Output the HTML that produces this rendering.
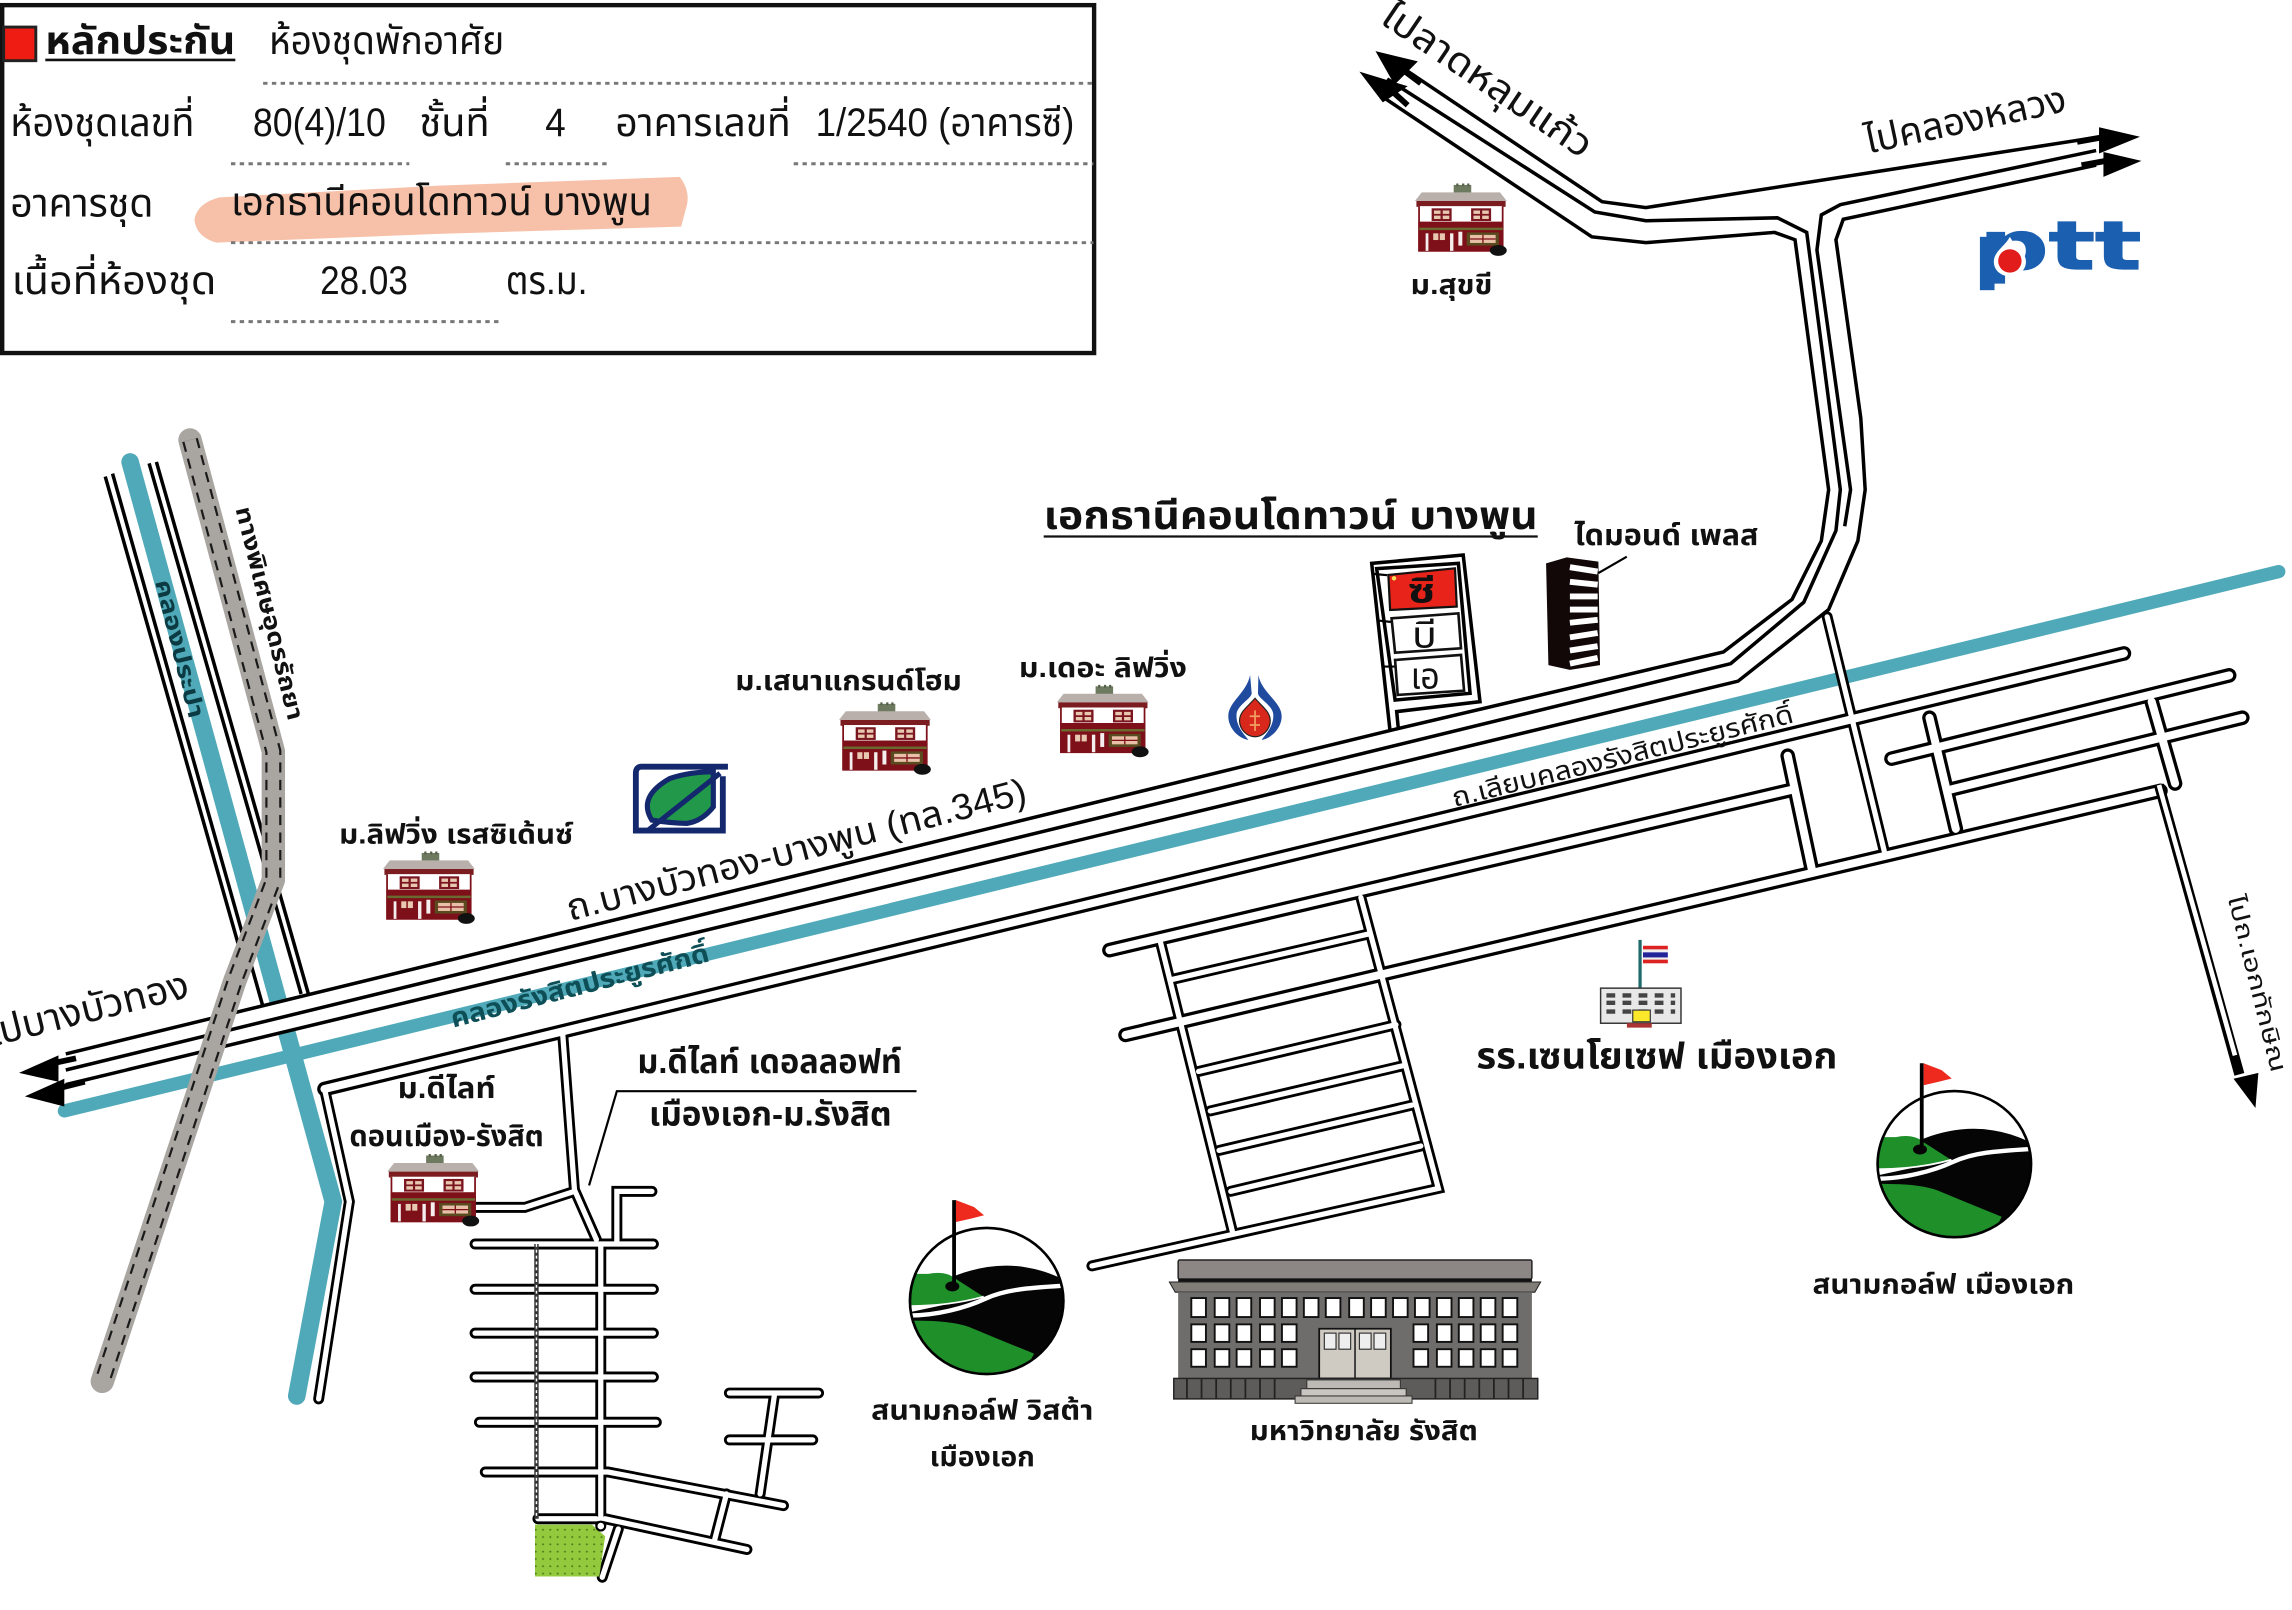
<!DOCTYPE html>
<html lang="th"><head><meta charset="utf-8"><title>แผนที่ เอกธานีคอนโดทาวน์ บางพูน</title>
<style>
html,body{margin:0;padding:0;background:#fff;width:2292px;height:1610px;overflow:hidden}
svg{display:block}
text{font-family:"Liberation Sans","Noto Sans Thai","Loma","Garuda","Norasi","Waree","TH Sarabun New","WenQuanYi Zen Hei","DejaVu Sans",sans-serif;fill:#111}
.b{font-weight:bold}
.l{fill:none;stroke:#000;stroke-width:2.400;stroke-linejoin:miter}
.t{fill:none;stroke:#000;stroke-width:1.500}
.d{fill:none;stroke:#777;stroke-width:2;stroke-dasharray:3 3}
</style></head><body>
<svg xmlns="http://www.w3.org/2000/svg" width="2292" height="1610" viewBox="0 0 1568 1101.4">
<defs>
<g id="house">
<rect x="26.500" y="-.5" width="12" height="6" fill="#6e7a5f"/>
<path d="M29 -1.500v2M33 -1.500v2M36.500 -1.500v2" stroke="#556048" stroke-width="1.500"/>
<polygon points="4.600,4.600 58.200,4.600 62.800,10.500 0,10.500" fill="#b9b0ac"/>
<rect x="1" y="10.500" width="61" height="4" fill="#7a1c20"/>
<rect x="2.300" y="14" width="58.200" height="11" fill="#fff"/>
<path d="M2.800 14V45M60 14V45" stroke="#7d1018" stroke-width="1.200"/>
<rect x="11.400" y="15.500" width="13.700" height="8.700" fill="#7b1520"/><rect x="38.400" y="15.500" width="13.700" height="8.700" fill="#7b1520"/>
<g fill="#e8c8b0"><rect x="13" y="17" width="4.500" height="2.300"/><rect x="19" y="17" width="4.500" height="2.300"/><rect x="13" y="20.500" width="4.500" height="2.300"/><rect x="19" y="20.500" width="4.500" height="2.300"/><rect x="40" y="17" width="4.500" height="2.300"/><rect x="46" y="17" width="4.500" height="2.300"/><rect x="40" y="20.500" width="4.500" height="2.300"/><rect x="46" y="20.500" width="4.500" height="2.300"/></g>
<rect x="2.300" y="24.600" width="58.200" height="20.600" fill="#7d1018"/>
<rect x="3" y="28.700" width="57" height="1.700" fill="#6a6a30"/>
<rect x="7.300" y="32.600" width="1.900" height="12" fill="#f4eeee"/><rect x="24" y="32.600" width="2.300" height="12" fill="#f4eeee"/><rect x="29.700" y="31.500" width="2.700" height="9.500" fill="#f4eeee"/>
<rect x="12.500" y="32.600" width="3.500" height="4.600" fill="#e8c8b0"/><rect x="17" y="32.600" width="3.500" height="4.600" fill="#e8c8b0"/>
<rect x="35.400" y="32" width="22" height="9" fill="#5a4a20"/><rect x="37.700" y="33.700" width="17.500" height="5.500" fill="#e8c0a8"/>
<path d="M37.700 36.500h17.500M46.500 33.700v5.500" stroke="#7d1018" stroke-width=".9"/>
<ellipse cx="57" cy="44.300" rx="5.800" ry="3.700" fill="#111"/>
</g>
<g id="golf">
<clipPath id="gc"><ellipse cx="0" cy="0" rx="52.500" ry="50"/></clipPath>
<ellipse cx="0" cy="0" rx="52.500" ry="50" fill="#fff"/>
<g clip-path="url(#gc)">
<path d="M-21 -17.500Q4 -27 27 -23Q40 -21 54 -14V52H-54V8L-26 2Z" fill="#050505"/>
<path d="M-54 -18.500H-40Q-28 -21 -21 -15L-1.800 -2.700Q-20 3 -54 4Z" fill="#1f8f2a"/>
<path d="M-54 13.500Q-25 13 -12 17.800Q10 27 32.400 36L20 60H-54Z" fill="#1f8f2a"/>
<path d="M-54 10C-35 10 -15 5 -.7 -1.600S30 -9 54 -10.500" fill="none" stroke="#fff" stroke-width="3"/>
<path d="M-54 3.500Q-25 3.500 -2 -3" fill="none" stroke="#fff" stroke-width="1.200"/>
</g>
<ellipse cx="0" cy="0" rx="52.500" ry="50" fill="none" stroke="#000" stroke-width="1.800"/>
<path d="M-22.300 -11V-69" stroke="#000" stroke-width="2.600"/>
<polygon points="-21,-69 -8.700,-64.300 -1.800,-58.600 -10,-56.500 -21,-54" fill="#ee2a1e"/>
<ellipse cx="-23.500" cy="-10" rx="4.800" ry="3.400" fill="#050505"/>
</g>
<g id="rA" fill="none" stroke-linecap="round" stroke-linejoin="miter">
<path d="M222 745L1453 447"/><path d="M759 650L1227 540"/><path d="M770 708L1478 541"/><path d="M1294 519L1525 462"/><path d="M1335 540L1534 491"/>
<path d="M1223 517L1240 597"/><path d="M1320 491L1338 567"/><path d="M1472 480L1488 536"/>
</g>
<g id="rB" fill="none" stroke-linecap="round" stroke-linejoin="miter">
<path d="M1250 422L1289 582"/>
<path d="M747 866L984 813L931 614"/><path d="M794 645L843 842"/>
<path d="M802 670L936 639M820 733L955 701M828 760L960 729M834 787L966 756M842 815L972 784"/>
<path d="M325 851H447M325 882H447M325 912H447M325 942H447M328 973H449M332 1007H416L536 1030M422 850V815H446"/>
<path d="M411 851V1043M408 848L393 814L385 708"/><path d="M326 826H359L393 815"/>
<path d="M499 953H560M499 985H556M530 953L520 1022M497 1022L489 1053M414 1039L511 1060M423 1046L412 1079M368 1039H408"/>
<path d="M218 957L239 822L222 745"/>
</g>
<pattern id="dots" width="5" height="5" patternUnits="userSpaceOnUse"><rect width="5" height="5" fill="#93c93d"/><circle cx="1.500" cy="1.500" r=".7" fill="#4f7a1c"/></pattern>
</defs>
<rect width="1568" height="1102" fill="#fff"/>

<!-- canals -->
<path d="M44 760L1559 391" fill="none" stroke="#4fa9b8" stroke-width="9" stroke-linecap="round"/>
<path d="M89 316L228 822L203 955" fill="none" stroke="#4fa9b8" stroke-width="12" stroke-linecap="round" stroke-linejoin="miter"/>

<path class="l" d="M72 326L167 660M77 324L180 689M102 317L206 680M107 316L211 680"/>

<!-- highway -->
<polygon points="45,721 954,499 1189,446 1189,466 45,742" fill="#fff"/>
<path class="l" d="M1434 94L1126 142L1096 138L956 44"/>
<path class="l" d="M45 721L954 499L1179 446L1226 410L1246 370L1251 335L1228 164L1214 159L1126 166L1089 162L944 65"/>
<path class="l" d="M45 732L1184 454L1234 412L1256 363L1259 335L1236 159L1216 149L1126 151L1091 145L949 54"/>
<path class="l" d="M1434 103L1259 140L1246 147L1243 171L1266 335L1262 360"/>
<path class="l" d="M45 742L1189 466L1251 417L1271 370L1276 335L1273 286L1256 164L1261 150L1434 113"/>

<!-- arrows -->
<path d="M13 734L40 722L40 740ZM17 750L44 738L44 757Z" fill="#000"/>
<path d="M38 727L52 724M42 744L58 740" stroke="#000" stroke-width="4"/>
<path d="M1464 93.500L1436 87L1436 105ZM1465 110L1439 104L1439 121Z" fill="#000"/>
<path d="M1421 97L1438 94M1424 113L1441 110" stroke="#000" stroke-width="4"/>
<path d="M941 35L970 42L954 58ZM930 49L963 59L946 70Z" fill="#000"/>
<path d="M960 48L972 57M952 62L963 72" stroke="#000" stroke-width="4"/>

<!-- secondary roads -->
<use href="#rA" stroke="#000" stroke-width="10"/>
<use href="#rB" stroke="#000" stroke-width="7.500"/>
<use href="#rA" stroke="#fff" stroke-width="5.500"/>
<use href="#rB" stroke="#fff" stroke-width="3.600"/>
<path d="M367 851V1039" stroke="#333" stroke-width="3"/><path d="M367 851V1039" stroke="#fff" stroke-width="1" stroke-dasharray="2 2"/>

<path d="M1477 537L1532 735" stroke="#000" stroke-width="7" fill="none"/><path d="M1477 537L1529 722" stroke="#fff" stroke-width="3.200" fill="none"/>
<path d="M1543 758L1528 738L1545 734Z" fill="#000"/>

<!-- green plot -->
<polygon points="366,1043 405,1043 414,1051 410,1078.500 366,1078.500" fill="url(#dots)"/>
<circle cx="411" cy="1044" r="3" fill="#fff" stroke="#000" stroke-width="1.500"/>

<path class="t" d="M627 746.500H422L403 811"/>

<!-- motorway -->
<path d="M130 301L187 514V602L160.500 671.500L70 945" fill="none" stroke="#a9a6a2" stroke-width="16" stroke-linecap="round" stroke-linejoin="round"/>
<path d="M130 301L187 514V602L160.500 671.500L70 945" fill="none" stroke="#1a1a1a" stroke-width="11" stroke-dasharray="7 5" stroke-linejoin="round"/>
<path d="M130 301L187 514V602L160.500 671.500L70 945" fill="none" stroke="#a9a6a2" stroke-width="8" stroke-linejoin="round"/>

<!-- condo compound -->
<path class="l" d="M951 500.500L938.400 385.400L1001 379.700L1012.500 480L955.500 486.800L956.700 499.400"/>
<path class="l" d="M954.400 478.900L941.800 389L997.700 385.400L1005.700 474.300Z" stroke-width="1.800"/>
<path class="t" d="M938.400 392.500L949 393.500M943 424.500L952 425.500M946 456L954 456" stroke-width="1.800"/>
<polygon points="949.800,393.300 995.400,388.800 996.600,415 951,417.300" fill="#e8231a" stroke="#111" stroke-width="1.500"/>
<polygon points="952,423 997.700,419.600 999.500,443.500 954.400,446.500" fill="#fff" stroke="#111" stroke-width="1.800"/>
<polygon points="954.400,451.500 999.500,448 1001.600,472.500 956.200,475.400" fill="#fff" stroke="#111" stroke-width="1.800"/>
<circle cx="953.700" cy="395.600" r="1.500" fill="#f5e25a"/>
<text x="963" y="412" font-size="23" class="b" textLength="19" lengthAdjust="spacingAndGlyphs">ซี</text>
<text x="966" y="443" font-size="25" textLength="17" lengthAdjust="spacingAndGlyphs">บี</text>
<text x="965" y="471" font-size="25" textLength="20" lengthAdjust="spacingAndGlyphs">เอ</text>

<!-- Diamond Place tower -->
<polygon points="1057.700,385.400 1071.800,381.300 1093.500,384.200 1094.600,455 1074,458.300 1059.300,455" fill="#120808"/>
<g stroke="#fff" stroke-width="4"><path d="M1074 388L1093 391"/><path d="M1074 398L1093 400"/><path d="M1074 408H1093"/><path d="M1074 417H1093"/><path d="M1074 426L1093 424"/><path d="M1074 436L1093 433"/><path d="M1074 445L1093 442"/><path d="M1074 454L1093 450"/></g>
<path class="t" d="M1093.500 392L1112.900 380.800"/>

<!-- houses -->
<use href="#house" x="968" y="127"/><use href="#house" x="262" y="584"/><use href="#house" x="574" y="482"/><use href="#house" x="723" y="470"/><use href="#house" x="265" y="791"/>

<!-- golf -->
<use href="#golf" x="675" y="890"/><use href="#golf" x="1337" y="796.400"/>

<!-- university -->
<rect x="806" y="862" width="242" height="13" rx="1" fill="#8c8784" stroke="#222" stroke-width="1"/>
<rect x="806" y="875" width="242" height="3" fill="#111"/>
<polygon points="800,877 1054,877 1050,884 804,884" fill="#807c78" stroke="#222" stroke-width=".7"/>
<rect x="806" y="884" width="242" height="59" fill="#6f6c6c"/>
<g fill="#fff" stroke="#111" stroke-width="1.300">
<rect x="815" y="888" width="10" height="13"/><rect x="831" y="888" width="10" height="13"/><rect x="846" y="888" width="10" height="13"/><rect x="862" y="888" width="10" height="13"/><rect x="877" y="888" width="10" height="13"/><rect x="892" y="888" width="10" height="13"/><rect x="907" y="888" width="10" height="13"/><rect x="923" y="888" width="10" height="13"/><rect x="938" y="888" width="10" height="13"/><rect x="953" y="888" width="10" height="13"/><rect x="968" y="888" width="10" height="13"/><rect x="983" y="888" width="10" height="13"/><rect x="998" y="888" width="10" height="13"/><rect x="1013" y="888" width="10" height="13"/><rect x="1028" y="888" width="10" height="13"/>
<rect x="815" y="906" width="10" height="12"/><rect x="831" y="906" width="10" height="12"/><rect x="846" y="906" width="10" height="12"/><rect x="862" y="906" width="10" height="12"/><rect x="877" y="906" width="10" height="12"/>
<rect x="967" y="906" width="10" height="12"/><rect x="983" y="906" width="10" height="12"/><rect x="998" y="906" width="10" height="12"/><rect x="1013" y="906" width="10" height="12"/><rect x="1028" y="906" width="10" height="12"/>
<rect x="815" y="923" width="10" height="12"/><rect x="831" y="923" width="10" height="12"/><rect x="846" y="923" width="10" height="12"/><rect x="862" y="923" width="10" height="12"/><rect x="877" y="923" width="10" height="12"/>
<rect x="967" y="923" width="10" height="12"/><rect x="983" y="923" width="10" height="12"/><rect x="998" y="923" width="10" height="12"/><rect x="1013" y="923" width="10" height="12"/><rect x="1028" y="923" width="10" height="12"/>
</g>
<rect x="902.500" y="909" width="49" height="34" fill="#cfcbc3" stroke="#111" stroke-width="1.200"/>
<path d="M927 909V943" stroke="#111"/>
<rect x="906" y="912" width="8" height="11" fill="#eee" stroke="#333" stroke-width=".8"/><rect x="916" y="912" width="8" height="11" fill="#eee" stroke="#333" stroke-width=".8"/><rect x="930" y="912" width="8" height="11" fill="#eee" stroke="#333" stroke-width=".8"/><rect x="940" y="912" width="8" height="11" fill="#eee" stroke="#333" stroke-width=".8"/>
<rect x="803" y="943" width="249" height="14" fill="#5e5c5a" stroke="#222" stroke-width="1"/>
<path d="M812 943v14M822 943v14M832 943v14M842 943v14M852 943v14M862 943v14M872 943v14M982 943v14M992 943v14M1002 943v14M1012 943v14M1022 943v14M1032 943v14M1042 943v14" stroke="#222" stroke-width="1.200"/>
<rect x="894" y="944" width="64" height="6" fill="#bdb9b4" stroke="#333" stroke-width=".7"/>
<rect x="890" y="950" width="72" height="5" fill="#c9c5c0" stroke="#333" stroke-width=".7"/>
<rect x="886" y="955" width="80" height="5" fill="#bdb9b4" stroke="#333" stroke-width=".7"/>

<!-- school -->
<path d="M1122 643V692" stroke="#1e6a6a" stroke-width="2.200"/>
<rect x="1124" y="647" width="17" height="2.500" fill="#d22"/><rect x="1124" y="649.500" width="17" height="2" fill="#eee"/><rect x="1124" y="651.500" width="17" height="3.500" fill="#229"/><rect x="1124" y="655" width="17" height="1.500" fill="#eee"/><rect x="1124" y="656.500" width="17" height="2.500" fill="#d22"/>
<rect x="1095" y="676" width="55" height="24" fill="#e8e8e8" stroke="#333" stroke-width="1"/>
<path d="M1099 681h47M1099 686h47M1099 692h47" stroke="#444" stroke-width="3" stroke-dasharray="6 5"/>
<rect x="1117" y="691" width="12" height="8" fill="#fbe82a" stroke="#333" stroke-width=".8"/>
<rect x="1113" y="700" width="17" height="3" fill="#a33"/>

<!-- Leaf logo -->
<path d="M498 524.500H439Q435 524.500 435 529V568.200H494.500V531" fill="#fff" stroke="#14286e" stroke-width="4"/>
<path d="M445.900 561Q436 545 458.400 532.500Q472 528 488 528L488 552Q480 562 469.800 563.300Q458 563 445.900 561Z" fill="#22994a" stroke="#14286e" stroke-width="3.500"/>
<path d="M443.600 567.800L492.600 529" stroke="#14286e" stroke-width="3.500"/>

<!-- drop logo -->
<path d="M855.200 461.800C853 474 840.300 480 840.300 490C840.300 498 847 505 854 506.200C852 503 845 497 846 488C847 482 856 478 856.300 474.300Z" fill="#1f4a9e"/>
<path d="M860.900 461.800C863 474 876.800 480 876.800 490C876.800 498 870 505 863.100 506.200C865 503 872 497 871 488C870 482 861 478 860.600 474.300Z" fill="#1f4a9e"/>
<path d="M858.600 477.700C853 484 848 487 848 493C848 499 853 504 858.600 504C864 504 869 499 869 493C869 487 864 484 858.600 477.700Z" fill="#d8281c" stroke="#222" stroke-width=".8"/>
<path d="M858.600 486V500M855 490h7M855 496h7" stroke="#f0a060" stroke-width="1.200"/>

<!-- PTT -->
<text x="1354" y="184" font-size="46" class="b" style="font-family:'DejaVu Sans','Liberation Sans',sans-serif;fill:#1b5fb0;stroke:#1b5fb0;stroke-width:.8" textLength="111" lengthAdjust="spacingAndGlyphs">ptt</text>
<rect x="1354.500" y="162" width="10" height="36.500" fill="#1b5fb0"/>
<path d="M1375 162C1372 168 1364 172 1364 179C1364 185 1369 189 1375 189C1381 189 1386 185 1386 179C1386 172 1378 168 1375 162Z" fill="#fff"/>
<circle cx="1375" cy="178.500" r="8" fill="#e21b1b"/>

<!-- legend -->
<rect x="1.500" y="3.500" width="747" height="238" fill="none" stroke="#111" stroke-width="3"/>
<rect x="2.500" y="18.500" width="22" height="23" fill="#ef1c14" stroke="#222" stroke-width="2"/>
<path d="M133 150Q135 139 150 135L300 127L465 121Q472 130 470 140L466 155L300 160L148 166Q134 162 133 150Z" fill="#f6c1a8"/>
<path class="d" d="M180 57H748M158 112H280M346 112H418M543 112H748M158 166H748M158 220H342"/>
<path d="M31 41H161" stroke="#111" stroke-width="1.800"/>
<text x="31" y="37" font-size="27" class="b" textLength="130" lengthAdjust="spacingAndGlyphs">หลักประกัน</text>
<text x="184" y="37" font-size="27" textLength="161" lengthAdjust="spacingAndGlyphs">ห้องชุดพักอาศัย</text>
<text x="7" y="93" font-size="27" textLength="126" lengthAdjust="spacingAndGlyphs">ห้องชุดเลขที่</text>
<text x="173" y="93" font-size="27" textLength="91" lengthAdjust="spacingAndGlyphs">80(4)/10</text>
<text x="287" y="93" font-size="27" textLength="48" lengthAdjust="spacingAndGlyphs">ชั้นที่</text>
<text x="373" y="93" font-size="27" textLength="14" lengthAdjust="spacingAndGlyphs">4</text>
<text x="421" y="93" font-size="27" textLength="120" lengthAdjust="spacingAndGlyphs">อาคารเลขที่</text>
<text x="558" y="93" font-size="27" textLength="177" lengthAdjust="spacingAndGlyphs">1/2540 (อาคารซี)</text>
<text x="7" y="148" font-size="27" textLength="98" lengthAdjust="spacingAndGlyphs">อาคารชุด</text>
<text x="158" y="147" font-size="27" textLength="288" lengthAdjust="spacingAndGlyphs">เอกธานีคอนโดทาวน์ บางพูน</text>
<text x="8" y="201" font-size="27" textLength="140" lengthAdjust="spacingAndGlyphs">เนื้อที่ห้องชุด</text>
<text x="219" y="201" font-size="27" textLength="60" lengthAdjust="spacingAndGlyphs">28.03</text>
<text x="346" y="201" font-size="27" textLength="56" lengthAdjust="spacingAndGlyphs">ตร.ม.</text>

<!-- map labels -->
<text x="714" y="362" font-size="27" class="b" textLength="338" lengthAdjust="spacingAndGlyphs">เอกธานีคอนโดทาวน์ บางพูน</text>
<path d="M714 367H1052" stroke="#111" stroke-width="1.500"/>
<text x="1077" y="373" font-size="20" class="b" textLength="126" lengthAdjust="spacingAndGlyphs">ไดมอนด์ เพลส</text>
<text x="503" y="472" font-size="19" class="b" textLength="155" lengthAdjust="spacingAndGlyphs">ม.เสนาแกรนด์โฮม</text>
<text x="697" y="463" font-size="19" class="b" textLength="115" lengthAdjust="spacingAndGlyphs">ม.เดอะ ลิฟวิ่ง</text>
<text x="232" y="577" font-size="19" class="b" textLength="160" lengthAdjust="spacingAndGlyphs">ม.ลิฟวิ่ง เรสซิเด้นซ์</text>
<text x="965" y="201" font-size="19" class="b" textLength="56" lengthAdjust="spacingAndGlyphs">ม.สุขขี</text>
<text x="272" y="751" font-size="20" class="b" textLength="67" lengthAdjust="spacingAndGlyphs">ม.ดีไลท์</text>
<text x="239" y="784" font-size="20" class="b" textLength="133" lengthAdjust="spacingAndGlyphs">ดอนเมือง-รังสิต</text>
<text x="436" y="734" font-size="23" class="b" textLength="181" lengthAdjust="spacingAndGlyphs">ม.ดีไลท์ เดอลลอฟท์</text>
<text x="444" y="770" font-size="23" class="b" textLength="166" lengthAdjust="spacingAndGlyphs">เมืองเอก-ม.รังสิต</text>
<text x="1010" y="731" font-size="25" class="b" textLength="247" lengthAdjust="spacingAndGlyphs">รร.เซนโยเซฟ เมืองเอก</text>
<text x="1240" y="885" font-size="19" class="b" textLength="179" lengthAdjust="spacingAndGlyphs">สนามกอล์ฟ เมืองเอก</text>
<text x="596" y="971" font-size="19" class="b" textLength="152" lengthAdjust="spacingAndGlyphs">สนามกอล์ฟ วิสต้า</text>
<text x="636" y="1003" font-size="19" class="b" textLength="72" lengthAdjust="spacingAndGlyphs">เมืองเอก</text>
<text x="855" y="985" font-size="19" class="b" textLength="156" lengthAdjust="spacingAndGlyphs">มหาวิทยาลัย รังสิต</text>

<text transform="translate(390 630) rotate(-14.500)" font-size="25" textLength="324" lengthAdjust="spacingAndGlyphs">ถ.บางบัวทอง-บางพูน (ทล.345)</text>
<text transform="translate(-6 716) rotate(-14)" font-size="27" textLength="141" lengthAdjust="spacingAndGlyphs">ไปบางบัวทอง</text>
<text transform="translate(310 703) rotate(-14.500)" font-size="18" class="b" style="fill:#0e4f57" textLength="182" lengthAdjust="spacingAndGlyphs">คลองรังสิตประยูรศักดิ์</text>
<text transform="translate(995 552) rotate(-14)" font-size="18" textLength="240" lengthAdjust="spacingAndGlyphs">ถ.เลียบคลองรังสิตประยูรศักดิ์</text>
<text transform="translate(943 15) rotate(34)" font-size="26" textLength="168" lengthAdjust="spacingAndGlyphs">ไปลาดหลุมแก้ว</text>
<text transform="translate(1278 105) rotate(-12)" font-size="26" textLength="140" lengthAdjust="spacingAndGlyphs">ไปคลองหลวง</text>
<text transform="translate(106 398) rotate(76)" font-size="16" class="b" style="fill:#0b3a42" textLength="97" lengthAdjust="spacingAndGlyphs">คลองประปา</text>
<text transform="translate(161 348) rotate(76)" font-size="16" class="b" textLength="150" lengthAdjust="spacingAndGlyphs">ทางพิเศษอุดรรัถยา</text>
<text transform="translate(1524 614) rotate(76)" font-size="16" textLength="124" lengthAdjust="spacingAndGlyphs">ไปถ.เอกทักษิณ</text>
</svg>
</body></html>
